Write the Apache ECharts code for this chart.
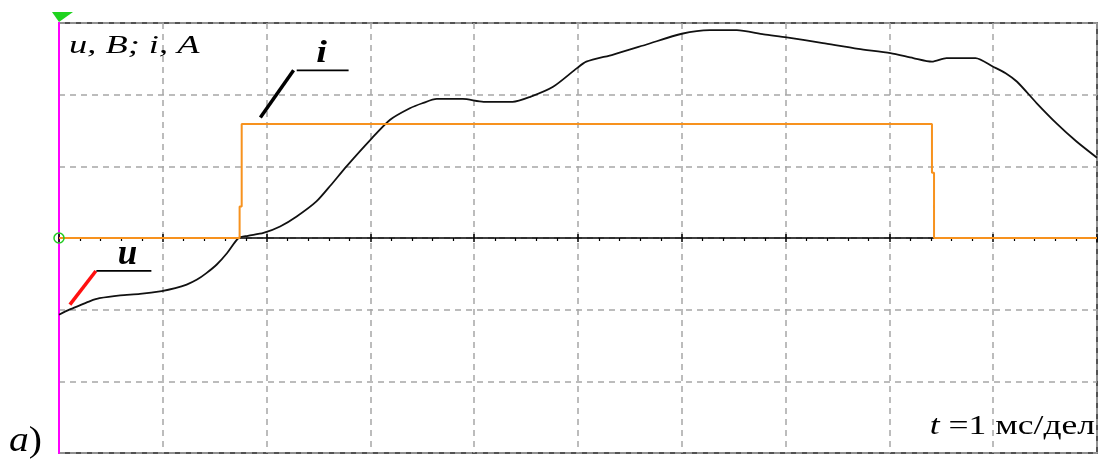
<!DOCTYPE html>
<html>
<head>
<meta charset="utf-8">
<script src="https://cdn.jsdelivr.net/npm/echarts@6/dist/echarts.min.js"></script>
<style>
  html, body { margin: 0; padding: 0; background: #fff; }
  #chart { width: 1105px; height: 465px; }
</style>
</head>
<body>
<div id="chart"></div>
<script>
// Time in divisions (1 ms/div), amplitude in vertical divisions
const timeTicks = [0, 1, 2, 3, 4, 5, 6, 7, 8, 9, 10];
const levelTicks = [-3, -2, -1, 0, 1, 2, 3];

// Voltage trace u(t): [time, level]
const uTrace = [
  [0, -1.07], [0.1, -1.0], [0.2, -0.94], [0.3, -0.88], [0.39, -0.84], [0.59, -0.80], [0.78, -0.78],
  [0.99, -0.74], [1.12, -0.70], [1.23, -0.65], [1.33, -0.58], [1.42, -0.49], [1.52, -0.37],
  [1.62, -0.21], [1.73, 0], [1.82, 0.03], [1.97, 0.07], [2.13, 0.16], [2.29, 0.30],
  [2.48, 0.51], [2.62, 0.74], [2.77, 1.0], [3.0, 1.37], [3.19, 1.65], [3.38, 1.81],
  [3.5, 1.88], [3.64, 1.94], [3.89, 1.94], [4.09, 1.90], [4.37, 1.90], [4.54, 1.97],
  [4.76, 2.11], [4.99, 2.37], [5.08, 2.46], [5.34, 2.56], [5.66, 2.70], [6.0, 2.85],
  [6.27, 2.90], [6.53, 2.90], [6.79, 2.84], [7.01, 2.80], [7.36, 2.72], [7.70, 2.64],
  [8.01, 2.58], [8.23, 2.51], [8.41, 2.46], [8.55, 2.51], [8.83, 2.51], [9.0, 2.39],
  [9.12, 2.30], [9.23, 2.18], [9.42, 1.88], [9.61, 1.60], [9.80, 1.35], [10.0, 1.12]
];

// Current pulse i(t): [time, level]
const iTrace = [
  [0, 0], [1.74, 0], [1.74, 0.44], [1.76, 0.44], [1.76, 1.59],
  [8.41, 1.59], [8.41, 0.91], [8.43, 0.91], [8.43, 0], [10, 0]
];

// Leader lines for the trace labels
const iLeaderSlant = [[1.94, 1.68], [2.26, 2.34]];
const iLeaderBar = [[2.29, 2.34], [2.79, 2.34]];
const uLeaderSlant = [[0.105, -0.93], [0.355, -0.46]];
const uLeaderBar = [[0.36, -0.46], [0.89, -0.46]];

// Label anchors (bottom-centre of the letter box)
const iLabelAt = [2.53, 2.35];
const uLabelAt = [0.66, -0.48];

const serif = "'Liberation Serif', 'Times New Roman', serif";
const gridDash = { color: '#a6a6a6', width: 1.5, type: [6, 5] };

const chart = echarts.init(document.getElementById('chart'), null, { renderer: 'canvas' });

const option = {
  animation: false,
  backgroundColor: '#fff',
  grid: {
    left: 59, right: 8, top: 23, bottom: 12,
    show: true, borderColor: '#1a1a1a', borderWidth: 1.5, backgroundColor: 'transparent'
  },
  xAxis: [
    {
      type: 'value', min: timeTicks[0], max: timeTicks[timeTicks.length - 1], interval: 1,
      axisLine: { onZero: true, lineStyle: { color: '#000', width: 1.5 } },
      axisTick: { show: true, length: 4, lineStyle: { color: '#000', width: 1.5 } },
      minorTick: { show: true, splitNumber: 5, length: 3, lineStyle: { color: '#000', width: 1.2 } },
      axisLabel: { show: false },
      splitLine: { show: true, lineStyle: gridDash }
    },
    {
      type: 'value', position: 'top', min: timeTicks[0], max: timeTicks[timeTicks.length - 1], interval: 1,
      axisLine: { show: false, onZero: true, onZeroAxisIndex: 1 },
      axisTick: { show: true, length: 4, lineStyle: { color: '#000', width: 1.5 } },
      axisLabel: { show: false },
      splitLine: { show: false }
    }
  ],
  yAxis: [
    {
      type: 'value', min: levelTicks[0], max: levelTicks[levelTicks.length - 1], interval: 1,
      axisLine: { show: true, onZero: false, lineStyle: { color: '#ff00ff', width: 2 } },
      axisTick: { show: false },
      axisLabel: { show: false },
      splitLine: { show: true, lineStyle: gridDash }
    },
    {
      type: 'value', position: 'right', min: levelTicks[0], max: levelTicks[levelTicks.length - 1], interval: 1,
      axisLine: { show: false, onZero: false },
      axisTick: { show: false }, axisLabel: { show: false }, splitLine: { show: false }
    }
  ],
  series: [
    {
      name: 'u', type: 'line', data: uTrace, smooth: 0.25,
      showSymbol: false, z: 3,
      lineStyle: { color: '#111', width: 1.8 }
    },
    {
      name: 'i', type: 'line', data: iTrace, showSymbol: false, z: 4,
      lineStyle: { color: '#f7921e', width: 2 },
      markPoint: {
        silent: true,
        label: { show: false },
        data: [
          {
            coord: [0, 0], symbol: 'circle', symbolSize: 10,
            itemStyle: { color: 'rgba(0,0,0,0)', borderColor: '#22cc22', borderWidth: 1.5 }
          },
          {
            coord: [0, 3], symbol: 'path://M0,0 L21,0 L7,10 Z', symbolSize: [21, 10],
            symbolOffset: [3.5, -6], symbolKeepAspect: false,
            itemStyle: { color: '#1fd31f' }
          }
        ]
      }
    },
    { type: 'line', data: iLeaderSlant, showSymbol: false, silent: true, z: 5, lineStyle: { color: '#000', width: 3.5 } },
    { type: 'line', data: iLeaderBar, showSymbol: false, silent: true, z: 5, lineStyle: { color: '#000', width: 1.8 } },
    { type: 'line', data: uLeaderSlant, showSymbol: false, silent: true, z: 5, lineStyle: { color: '#ff1010', width: 3.5 } },
    { type: 'line', data: uLeaderBar, showSymbol: false, silent: true, z: 5, lineStyle: { color: '#000', width: 1.8 } }
  ]
};

chart.setOption(option);

const iPos = chart.convertToPixel({ gridIndex: 0 }, iLabelAt);
const uPos = chart.convertToPixel({ gridIndex: 0 }, uLabelAt);

chart.setOption({
  graphic: [
    {
      type: 'text', x: 69, y: 33, scaleX: 1.4, z: 10,
      style: { text: 'u, B; i, A', font: 'italic 26px ' + serif, fill: '#000', verticalAlign: 'top' }
    },
    {
      type: 'text', x: iPos[0], y: iPos[1], scaleX: 1.2, z: 10,
      style: { text: 'i', font: 'italic bold 32px ' + serif, fill: '#000', align: 'center', verticalAlign: 'bottom' }
    },
    {
      type: 'text', x: uPos[0], y: uPos[1], z: 10,
      style: { text: 'u', font: 'italic bold 35px ' + serif, fill: '#000', align: 'center', verticalAlign: 'bottom' }
    },
    {
      type: 'text', x: 1095, y: 413, scaleX: 1.27, z: 10,
      style: {
        text: '{t|t}{n| =1 мс/дел}',
        align: 'right', verticalAlign: 'top',
        rich: {
          t: { font: 'italic 28px ' + serif, fill: '#000' },
          n: { font: '28px ' + serif, fill: '#000' }
        }
      }
    },
    {
      type: 'text', x: 9, y: 424, scaleX: 1.1, z: 10,
      style: {
        text: '{a|a}{b|)}',
        verticalAlign: 'top',
        rich: {
          a: { font: 'italic 36px ' + serif, fill: '#000' },
          b: { font: '36px ' + serif, fill: '#000' }
        }
      }
    }
  ]
});
</script>
</body>
</html>
